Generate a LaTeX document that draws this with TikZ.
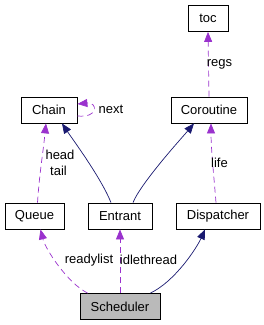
\documentclass[tikz,border=0pt]{standalone}
\usepackage{fontspec}
\setmainfont{Liberation Sans}
\usetikzlibrary{arrows.meta}
\definecolor{doxPurple}{RGB}{154, 50, 205}
\definecolor{doxNavy}{RGB}{25, 25, 112}

\begin{document}
\begin{tikzpicture}[
    x=1pt, y=-1pt,
    classbox/.style={rectangle, draw=black, line width=0.8pt, inner sep=0pt,
                     minimum height=26pt, font=\fontsize{13}{15}\selectfont},
    usage/.style={-{Triangle[length=10pt, width=8pt]}, doxPurple, line width=0.7pt,
                  dash pattern=on 6pt off 4pt},
    inherit/.style={-{Triangle[length=10pt, width=8pt]}, doxNavy, line width=0.7pt},
    elabel/.style={font=\fontsize{13}{15}\selectfont, inner sep=0pt},
  ]
    \useasboundingbox (0,0) rectangle (264,325);

    % Classes
    \node[classbox, minimum width=40pt] (toc) at (208,18.5) {toc};
    \node[classbox, minimum width=56pt] (chain) at (49,110) {Chain};
    \node[classbox, minimum width=76pt] (coroutine) at (209,110) {Coroutine};
    \node[classbox, minimum width=59pt] (queue) at (34.5,216) {Queue};
    \node[classbox, minimum width=64pt] (entrant) at (120,216) {Entrant};
    \node[classbox, minimum width=84pt] (dispatcher) at (218,216) {Dispatcher};
    \node[classbox, minimum width=80pt, fill=black!27] (sched) at (120,306.5) {Scheduler};

    % Coroutine -> toc
    \draw[usage] (coroutine.north) -- (toc.south);
    \node[elabel] (regsLbl) at (219.5,64) {regs};

    % Chain self reference
    \draw[usage] ([yshift=-6pt]chain.east) .. controls +(22,2) and +(20,-2) .. ([yshift=6pt]chain.east);
    \node[elabel] (nextLbl) at (111,109) {next};

    % Queue -> Chain
    \draw[usage] ([xshift=3pt]queue.north) .. controls +(2,-30) and +(-3,30) .. ([xshift=-3pt]chain.south);
    \node[elabel] (headLbl) at (60,155) {head};
    \node[elabel] (tailLbl) at (58.5,171) {tail};

    % Entrant inherits Chain, Coroutine
    \draw[inherit] ([xshift=-9pt]entrant.north) .. controls +(-10,-25) and +(10,15) .. ([xshift=13pt]chain.south);
    \draw[inherit] ([xshift=13pt]entrant.north) .. controls +(8,-20) and +(-10,12) .. ([xshift=-15pt]coroutine.south);

    % Dispatcher -> Coroutine
    \draw[usage] ([xshift=-2pt]dispatcher.north) .. controls +(-2,-25) and +(0,25) .. ([xshift=2pt]coroutine.south);
    \node[elabel] (lifeLbl) at (219.5,163) {life};

    % Scheduler relations
    \draw[usage] ([xshift=8pt]sched.north west) .. controls +(-20,-10) and +(5,20) .. ([xshift=6pt]queue.south);
    \node[elabel] (readyLbl) at (89,260) {readylist};
    \draw[usage] (sched.north) -- (entrant.south);
    \node[elabel] (idleLbl) at (148.5,260) {idlethread};
    \draw[inherit] ([xshift=-10pt]sched.north east) .. controls +(25,-12) and +(-8,18) .. ([xshift=-13pt]dispatcher.south);
  \end{tikzpicture}
\end{document}
